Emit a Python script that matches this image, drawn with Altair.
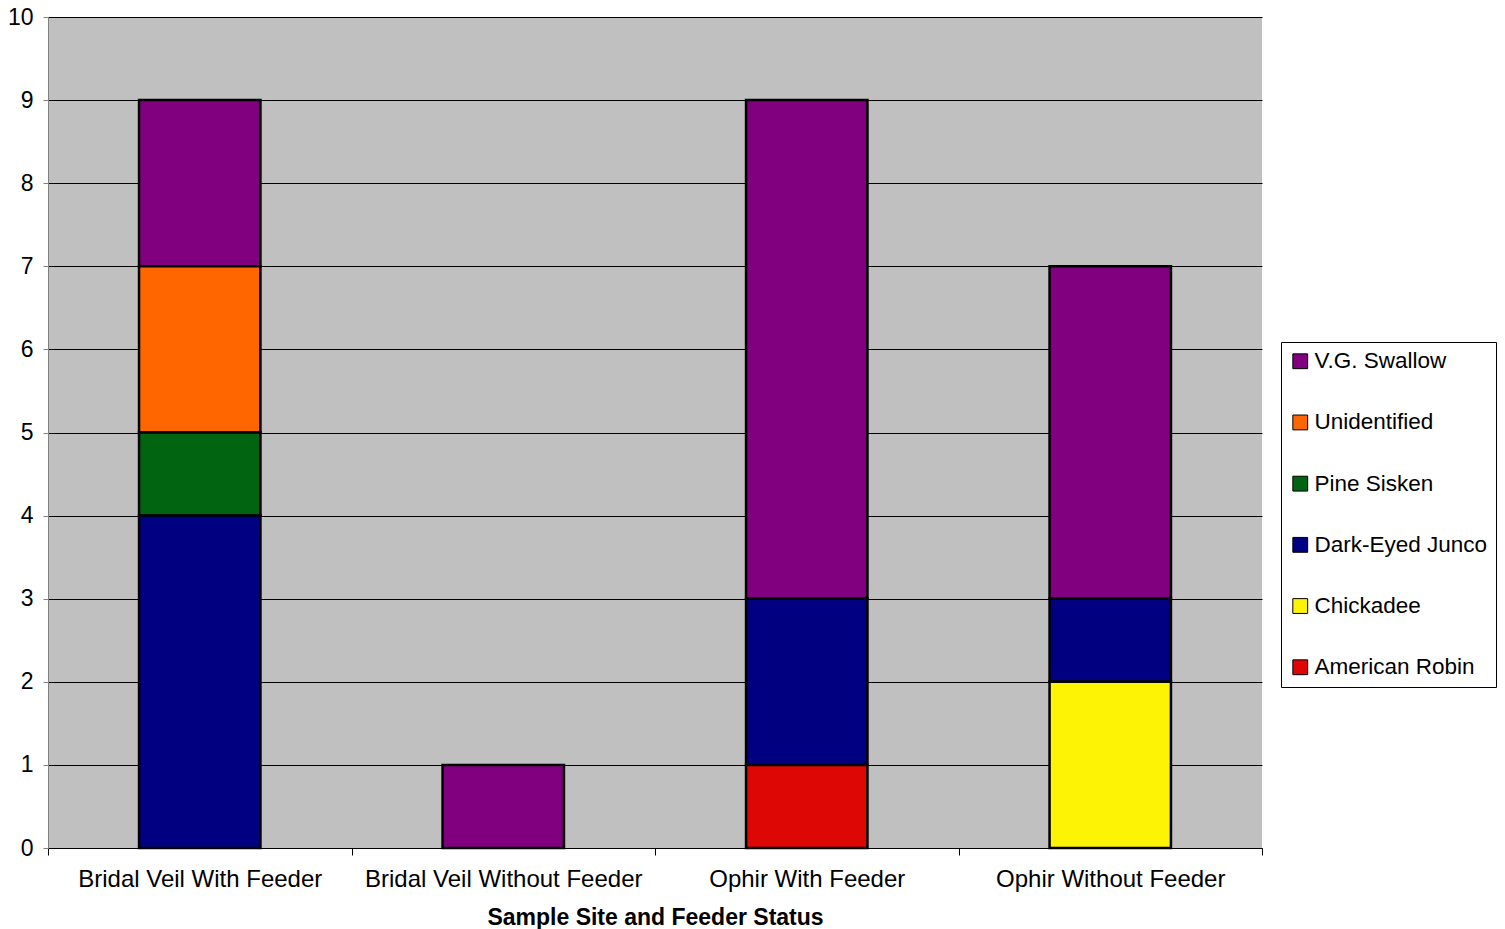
import altair as alt
import pandas as pd

# Bird sightings per sample site / feeder status, stacked by species
sites = [
    "Bridal Veil With Feeder",
    "Bridal Veil Without Feeder",
    "Ophir With Feeder",
    "Ophir Without Feeder",
]
# Species in legend order (top to bottom)
species = [
    "V.G. Swallow",
    "Unidentified",
    "Pine Sisken",
    "Dark-Eyed Junco",
    "Chickadee",
    "American Robin",
]
colors = ["#800080", "#FF6600", "#006411", "#000080", "#FCF305", "#DD0806"]

# counts[species] -> one value per site
counts = {
    "V.G. Swallow":    [2, 1, 6, 4],
    "Unidentified":    [2, 0, 0, 0],
    "Pine Sisken":     [1, 0, 0, 0],
    "Dark-Eyed Junco": [4, 0, 2, 1],
    "Chickadee":       [0, 0, 0, 2],
    "American Robin":  [0, 0, 1, 0],
}

rows = []
for i, sp in enumerate(species):
    for site, v in zip(sites, counts[sp]):
        if v > 0:
            # stack from the bottom: American Robin first, V.G. Swallow last
            rows.append({"site": site, "species": sp, "count": v,
                         "stack": len(species) - 1 - i})
df = pd.DataFrame(rows)

FONT = "Liberation Sans"

chart = (
    alt.Chart(df)
    .mark_bar(stroke="black", strokeWidth=2.5, width=alt.RelativeBandSize(0.4))
    .encode(
        x=alt.X(
            "site:N",
            sort=sites,
            scale=alt.Scale(paddingInner=0, paddingOuter=0),
            axis=alt.Axis(
                title="Sample Site and Feeder Status",
                labelAngle=0,
                labelLimit=0,
                tickBand="extent",
                tickSize=7,
                tickColor="black",
                domainColor="black",
                labelPadding=12,
                labelFontSize=24,
                labelColor="black",
                titleFontSize=23,
                titleFontWeight="bold",
                titleColor="black",
                titlePadding=15,
                grid=False,
            ),
        ),
        y=alt.Y(
            "count:Q",
            stack="zero",
            scale=alt.Scale(domain=[0, 10]),
            axis=alt.Axis(
                title=None,
                values=list(range(11)),
                tickSize=5,
                tickColor="#808080",
                domainColor="#808080",
                labelPadding=10,
                labelFontSize=23,
                labelColor="black",
                gridColor="black",
                gridOpacity=1,
                gridWidth=1,
            ),
        ),
        color=alt.Color(
            "species:N",
            scale=alt.Scale(domain=species, range=colors),
            legend=alt.Legend(
                title=None,
                orient="none",
                legendX=1233,
                legendY=325,
                symbolType="square",
                symbolSize=220,
                symbolStrokeColor="black",
                symbolStrokeWidth=1,
                symbolOpacity=1,
                labelFontSize=22.5,
                labelLimit=0,
                labelColor="black",
                labelOffset=3,
                rowPadding=38.2,
                padding=8,
                strokeColor="black",
                fillColor="white",
            ),
        ),
        order=alt.Order("stack:Q", sort="ascending"),
    )
    .properties(
        width=1214,
        height=831,
        autosize=alt.AutoSizeParams(type="none"),
        padding={"left": 48, "top": 17, "right": 243, "bottom": 81},
    )
    .configure(font=FONT, background="white")
    .configure_view(fill="#C0C0C0", stroke=None)
)

chart.save("out.html", embed_options={"renderer": "svg", "actions": False})
